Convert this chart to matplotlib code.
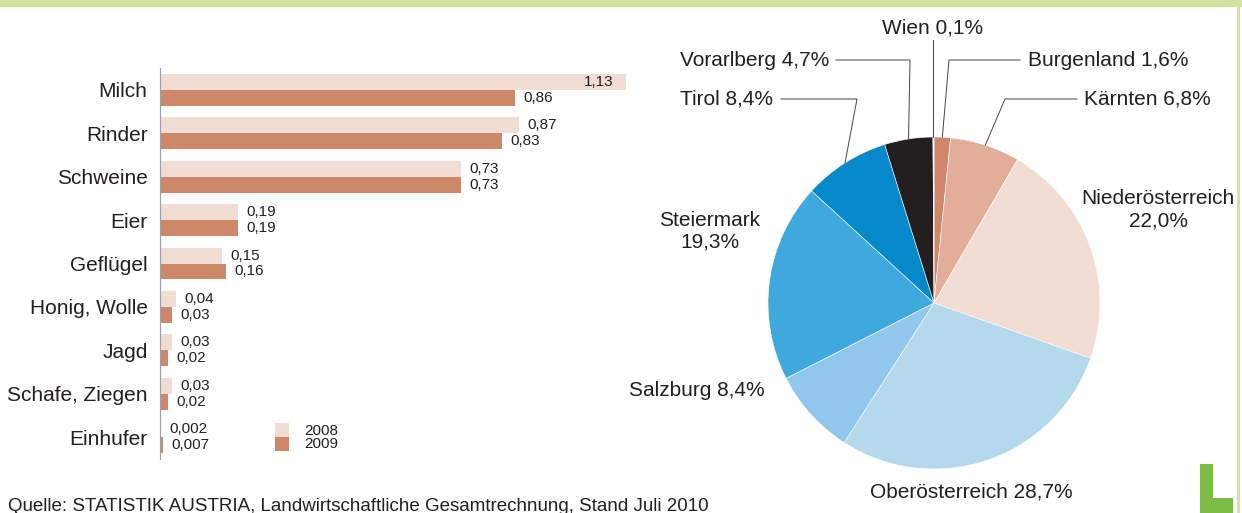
import matplotlib.pyplot as plt
from matplotlib.patches import Rectangle
import numpy as np

plt.rcParams['font.family'] = ['Liberation Sans', 'DejaVu Sans']

# data
categories = ['Milch', 'Rinder', 'Schweine', 'Eier', 'Geflügel',
              'Honig, Wolle', 'Jagd', 'Schafe, Ziegen', 'Einhufer']
v2008 = [1.13, 0.87, 0.73, 0.19, 0.15, 0.04, 0.03, 0.03, 0.002]
v2009 = [0.86, 0.83, 0.73, 0.19, 0.16, 0.03, 0.02, 0.02, 0.007]
years = ['2008', '2009']

regions = ['Burgenland', 'Kärnten', 'Niederösterreich', 'Oberösterreich',
           'Salzburg', 'Steiermark', 'Tirol', 'Vorarlberg', 'Wien']
shares = [1.6, 6.8, 22.0, 28.7, 8.4, 19.3, 8.4, 4.7, 0.1]

source = 'Quelle: STATISTIK AUSTRIA, Landwirtschaftliche Gesamtrechnung, Stand Juli 2010'

# styles
c08 = '#f2ddd4'
c09 = '#cf876a'
txt = '#231f20'
green = '#d5e39e'
pie_colors = ['#cf876a', '#e2ae99', '#f2ddd4', '#b5d9ec', '#90c7ea',
              '#3fa9dd', '#0589cb', '#231f20', '#ffffff']


def fmt(v):
    s = f'{v:.3f}' if v < 0.01 else f'{v:.2f}'
    return s.replace('.', ',')


def pct(name):
    return f'{shares[regions.index(name)]:.1f}'.replace('.', ',') + '%'


W, H = 1242, 513
fig = plt.figure(figsize=(W / 100, H / 100), dpi=100)


def Y(y):
    return H - y


# overlay in pixel coords (pie, decoration, texts)
ov = fig.add_axes([0, 0, 1, 1])
cx, cy, r = 934, Y(303), 166
wedges, _ = ov.pie(shares, colors=pie_colors, startangle=90, counterclock=False,
                   center=(cx, cy), radius=r,
                   wedgeprops=dict(edgecolor='white', linewidth=0.4))
ov.set_xlim(0, W)
ov.set_ylim(0, H)
ov.set_aspect('auto')
ov.axis('off')


def edge_point(name):
    w = wedges[regions.index(name)]
    a = np.deg2rad((w.theta1 + w.theta2) / 2)
    return cx + r * np.cos(a), cy + r * np.sin(a)


fs = 15
lc = '#444444'
# callouts with leader lines
callouts = [('Vorarlberg', 829, 60, 'right', 836, 910),
            ('Burgenland', 1028, 60, 'left', 1020, 949),
            ('Tirol', 773, 99, 'right', 781, 857),
            ('Kärnten', 1084, 99, 'left', 1077, 1005)]
for name, tx, ty, ha, x0, x1 in callouts:
    ov.text(tx, Y(ty), f'{name} {pct(name)}', ha=ha, va='center',
            fontsize=fs, color=txt)
    px, py = edge_point(name)
    ov.plot([x0, x1, px], [Y(ty), Y(ty), py], color=lc, lw=0.7)

px, py = edge_point('Wien')
ov.text(933, Y(28), f'Wien {pct("Wien")}', ha='center', va='center',
        fontsize=fs, color=txt)
ov.plot([px, px], [Y(40), py], color=lc, lw=0.7)

ov.text(1158, Y(210), f'Niederösterreich\n{pct("Niederösterreich")}',
        ha='center', va='center', fontsize=fs, color=txt, linespacing=1.2)
ov.text(710, Y(231), f'Steiermark\n{pct("Steiermark")}',
        ha='center', va='center', fontsize=fs, color=txt, linespacing=1.2)
ov.text(697, Y(391), f'Salzburg {pct("Salzburg")}',
        ha='center', va='center', fontsize=fs, color=txt)
ov.text(971, Y(492), f'Oberösterreich {pct("Oberösterreich")}',
        ha='center', va='center', fontsize=fs, color=txt)

# frame decoration
ov.add_patch(Rectangle((0, Y(7)), W, 7, color=green, lw=0))
ov.add_patch(Rectangle((1237, 0), 2.5, H, color=green, lw=0))
ov.add_patch(Rectangle((1200, 0), 13, Y(464), color='#7dbb47', lw=0))
ov.add_patch(Rectangle((1213, 0), 20, Y(498), color='#7dbb47', lw=0))

# legend
for i, (lab, col) in enumerate(zip(years, [c08, c09])):
    ov.add_patch(Rectangle((275, Y(437 + 14 * i)), 14, 14, color=col, lw=0))
    ov.text(304, Y(431 + 13 * i), lab, ha='left', va='center',
            fontsize=11, color=txt)

ov.text(8, Y(498), source, ha='left', va='top', fontsize=13.5, color=txt)

# bar chart
ax = fig.add_axes([160 / W, 1 - 458.7 / H, 466 / W, 390.4 / H])
ax.patch.set_alpha(0)
y = np.arange(len(categories))
h = 16 / 43.4
ax.barh(y - h / 2, v2008, height=h, color=c08, lw=0)
ax.barh(y + h / 2, v2009, height=h, color=c09, lw=0)
ax.set_xlim(0, 1.13)
ax.set_ylim(len(categories) - 0.5, -0.5)
for s in ['top', 'right', 'bottom']:
    ax.spines[s].set_visible(False)
ax.spines['left'].set_color('#a0a0a0')
ax.spines['left'].set_linewidth(0.8)
ax.set_xticks([])
ax.set_yticks(y, categories, fontsize=15, color=txt)
ax.tick_params(axis='y', length=0, pad=9)

for i in range(len(categories)):
    for v, yy in [(v2008[i], y[i] - h / 2), (v2009[i], y[i] + h / 2)]:
        if v > 0.95 * 1.13:
            ax.annotate(fmt(v), xy=(v, yy), xytext=(-9, 0), textcoords='offset points',
                        ha='right', va='center', fontsize=11, color=txt)
        else:
            ax.annotate(fmt(v), xy=(v, yy), xytext=(6, 0), textcoords='offset points',
                        ha='left', va='center', fontsize=11, color=txt)

fig.savefig('out.png', dpi=100)
